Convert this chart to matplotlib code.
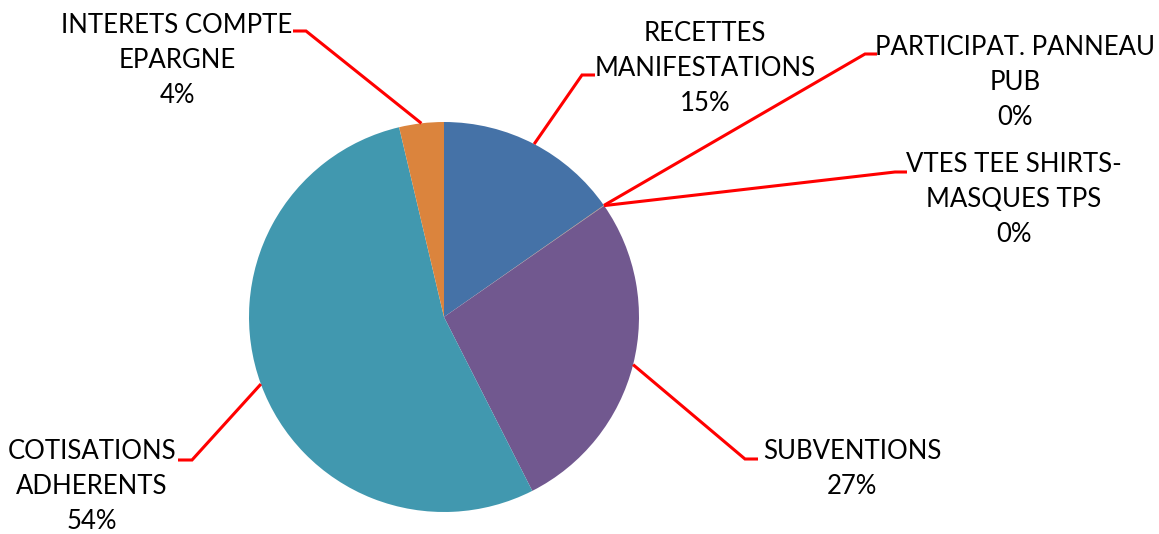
import numpy as np
import matplotlib
matplotlib.use("Agg")
import matplotlib.pyplot as plt

W, H = 1159, 534

# data (shares of income)
labels = ["RECETTES\nMANIFESTATIONS", "PARTICIPAT. PANNEAU\nPUB",
          "VTES TEE SHIRTS-\nMASQUES TPS", "SUBVENTIONS",
          "COTISATIONS\nADHERENTS", "INTERETS COMPTE\nEPARGNE"]
values = [15.3, 0.02, 0.02, 27.2, 53.8, 3.7]
colors = ["#4572A7", "#AA4643", "#89A54E", "#71588F", "#4198AF", "#DB843D"]

# layout in pixel coords (y from top): elbow, line end, label centre x, first baseline y
elbows = [(582, 75), (865, 54), (895, 172), (745, 459), (192, 460), (306, 31)]
ends = [(595, 75), (877, 54), (907, 172), (758, 459), (178, 460), (293, 31)]
label_pos = [(705, 41), (1015, 55), (1014, 172), (852, 459), (92, 459), (177, 33)]
line_gap = 35

plt.rcParams['font.family'] = ['Lato', 'DejaVu Sans']

fig = plt.figure(figsize=(W / 100, H / 100), dpi=100)
ax = fig.add_axes([0, 0, 1, 1])

cx, cy, r = 444, H - 317, 195
wedges, _ = ax.pie(values, colors=colors, startangle=90, counterclock=False,
                   center=(cx, cy), radius=r, frame=True,
                   wedgeprops=dict(linewidth=0))
ax.set_xlim(0, W)
ax.set_ylim(0, H)
ax.axis("off")

total = sum(values)
for i, w in enumerate(wedges):
    mid = np.deg2rad((w.theta1 + w.theta2) / 2)
    px, py = cx + r * np.cos(mid), cy + r * np.sin(mid)
    ex, ey = elbows[i]
    tx, ty = ends[i]
    ax.plot([px, ex, tx], [py, H - ey, H - ty], color="#FF0000", lw=2.2,
            solid_capstyle="butt", solid_joinstyle="miter")
    pct = f"{round(values[i] / total * 100)}%"
    lx, ly = label_pos[i]
    for k, line in enumerate(labels[i].split("\n") + [pct]):
        ax.text(lx, H - ly - k * line_gap, line, ha="center", va="baseline",
                fontsize=18.5, color="black")

fig.savefig("out.png", dpi=100)
